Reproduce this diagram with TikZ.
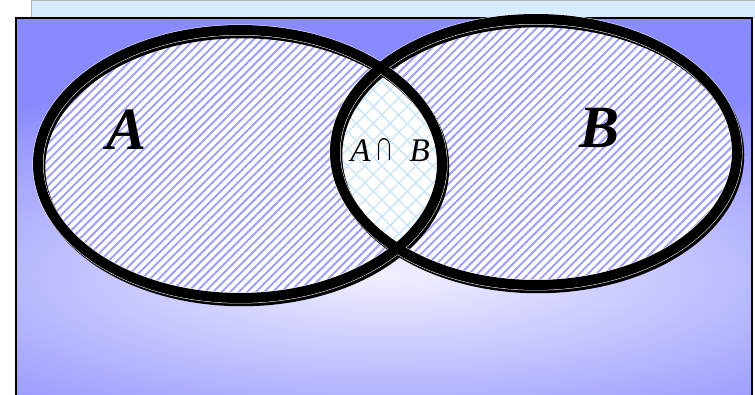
\documentclass[tikz,border=0pt]{standalone}
\usepackage{fontspec}
\usepackage{graphicx}
\setmainfont{Liberation Serif}
\usetikzlibrary{patterns.meta}
\definecolor{bgout}{RGB}{138,138,255}
\definecolor{bgin}{RGB}{240,240,255}
\definecolor{stripe}{RGB}{160,160,248}
\definecolor{hatch}{RGB}{200,228,250}
\definecolor{topstrip}{RGB}{214,236,252}
\tikzset{
  setfill/.style={fill=white},
  setstripes/.style={pattern={Lines[angle=45,distance=6pt,line width=2pt]},pattern color=stripe},
  lenshatch/.style={pattern={Lines[angle=45,distance=12pt,line width=1.3pt]},pattern color=hatch},
  lenshatchb/.style={pattern={Lines[angle=-45,distance=12pt,line width=1.3pt]},pattern color=hatch},
  shadowline/.style={draw=black,line width=10.5pt},
  haloline/.style={draw=white,line width=11pt},
  setline/.style={draw=black,line width=10pt},
  biglabel/.style={font=\fontsize{60}{60}\selectfont\bfseries\itshape,inner sep=0pt,anchor=base},
  smalllabel/.style={font=\fontsize{33}{36}\selectfont,inner sep=0pt,anchor=base}
}
\begin{document}
\begin{tikzpicture}[x=1pt,y=-1pt]
\useasboundingbox (0,0) rectangle (755,395);
\fill[white] (0,0) rectangle (755,395);
% top strip
\fill[topstrip] (31,0) rectangle (755,18);
\draw[gray!60,line width=1pt] (31,0.5) -- (755,0.5);
\draw[gray!60,line width=1pt] (31,0.5) -- (31,18);
% background box
\begin{scope}
\clip (16,18) rectangle (752,395);
\fill[bgout] (16,18) rectangle (752,395);
\shade[inner color=bgin,outer color=bgout] (-290,75) rectangle (1070,475);
\end{scope}
\draw[black,line width=2.5pt] (16,395) -- (16,18) -- (752,18) -- (752,395);
% set regions
\coordinate (ca) at (240,164);
\coordinate (cb) at (536,152);
\path[setfill] (ca) ellipse [x radius=202,y radius=134];
\path[setstripes] (ca) ellipse [x radius=202,y radius=134];
\path[setfill] (cb) ellipse [x radius=201,y radius=133];
\path[setstripes] (cb) ellipse [x radius=201,y radius=133];
% intersection lens
\begin{scope}
\clip (ca) ellipse [x radius=202,y radius=134];
\path[setfill] (cb) ellipse [x radius=201,y radius=133];
\path[lenshatch] (cb) ellipse [x radius=201,y radius=133];
\path[lenshatchb] (cb) ellipse [x radius=201,y radius=133];
\end{scope}
% outlines with shadow
\path[shadowline] ([shift={(2,3)}]ca) ellipse [x radius=202,y radius=134];
\path[shadowline] ([shift={(2,3)}]cb) ellipse [x radius=201,y radius=133];
\path[haloline] (ca) ellipse [x radius=202,y radius=134];
\path[haloline] (cb) ellipse [x radius=201,y radius=133];
\path[setline] (ca) ellipse [x radius=202,y radius=134];
\path[setline] (cb) ellipse [x radius=201,y radius=133];
% labels
\node[biglabel] (la) at (127,150) {A};
\node[biglabel] (lb) at (600,148) {B};
\node[smalllabel] (lab) at (390,162) {\textit{A}\hspace{7pt}\raisebox{-2pt}{\resizebox{14pt}{25pt}{$\bigcap$}}\hspace{18pt}\textit{B}};
\end{tikzpicture}
\end{document}
